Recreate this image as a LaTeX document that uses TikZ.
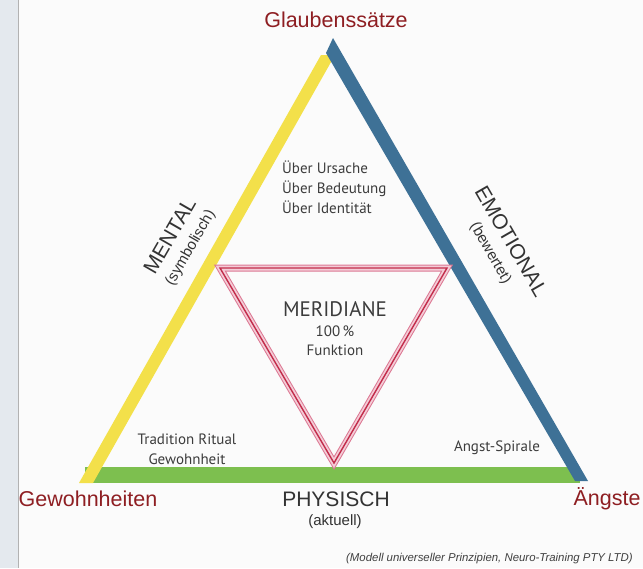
\documentclass[tikz,border=0pt]{standalone}
\usepackage{fontspec}
\setmainfont{Liberation Sans}
\newfontfamily\myriad{PT Sans}

\definecolor{yellowside}{HTML}{F3E04A}
\definecolor{blueside}{HTML}{3E7196}
\definecolor{greenside}{HTML}{7DBF4F}
\definecolor{cornerred}{HTML}{8E1E22}
\definecolor{innertext}{HTML}{3C3C3C}
\definecolor{merdark}{HTML}{DC7893}
\definecolor{merlight}{HTML}{F4CCD7}
\definecolor{merred}{HTML}{C22D4B}
\definecolor{pageedge}{HTML}{E4E9EE}

\newcommand{\sublabel}[1]{{\fontsize{15}{15}\selectfont #1}}

\begin{document}
\begin{tikzpicture}[x=1pt,y=-1pt,
    corner/.style={text=cornerred, inner sep=0pt, font=\fontsize{21.5}{24}\selectfont},
    side/.style={text=black!80, align=center, inner sep=0pt, font=\fontsize{21}{20}\selectfont},
    inner/.style={text=innertext, inner sep=0pt, font=\myriad\fontsize{15}{20}\selectfont}]
    \useasboundingbox[fill=white!97!gray] (0,0) rectangle (643,568);

    % Page edge of the scan
    \fill[pageedge] (0,0) rectangle (18,568);
    \draw[gray!60, line width=0.8pt] (18,0) -- (18,568);

    % Physical side (green bar)
    \fill[greenside] (85,467) rectangle (580,483);
    % Mental side (yellow)
    \fill[yellowside] (79,483) -- (93,483) -- (335,55) -- (321,55) -- cycle;
    % Emotional side (blue)
    \fill[blueside] (326,53) -- (333,38) -- (588,481) -- (575,481) -- cycle;

    % Meridiane triangle, three stripes
    \foreach \w/\c in {7/merdark, 5/merlight, 1.4/merred}
        \draw[line width=\w pt, \c] (220,268) -- (447,268) -- (334,463) -- cycle;

    % Corner labels
    \node[corner] (glauben) at (336,20) {Glaubenssätze};
    \node[corner] (gewohn) at (88,499) {Gewohnheiten};
    \node[corner] (angst) at (607,499) {Ängste};

    % Side labels
    \node[side, rotate=60] (mental) at (180,242) {MENTAL\\[1pt]\sublabel{(symbolisch)}};
    \node[side, rotate=-60] (emotional) at (501,247) {EMOTIONAL\\[1pt]\sublabel{(bewertet)}};
    \node[side] (physisch) at (336,499) {PHYSISCH};
    \node[text=black!80, font=\fontsize{15}{15}\selectfont] (aktuell) at (335,522) {(aktuell)};

    % Texts inside
    \node[inner, align=left, anchor=west] (ueber) at (282,187) {Über Ursache\\Über Bedeutung\\Über Identität};
    \node[inner, font=\myriad\fontsize{21}{21}\selectfont] (meridiane) at (335,309) {MERIDIANE};
    \node[inner] (prozent) at (335,331) {100\,\%};
    \node[inner] (funktion) at (335,350) {Funktion};
    \node[inner, align=center] (tradition) at (187,449) {Tradition Ritual\\Gewohnheit};
    \node[inner] (spirale) at (497,448) {Angst-Spirale};

    % Source
    \node[anchor=west, inner sep=0pt, text=black!75, font=\itshape\fontsize{11.4}{14}\selectfont] (quelle) at (346,559) {(Modell universeller Prinzipien, Neuro-Training PTY LTD)};
\end{tikzpicture}
\end{document}
